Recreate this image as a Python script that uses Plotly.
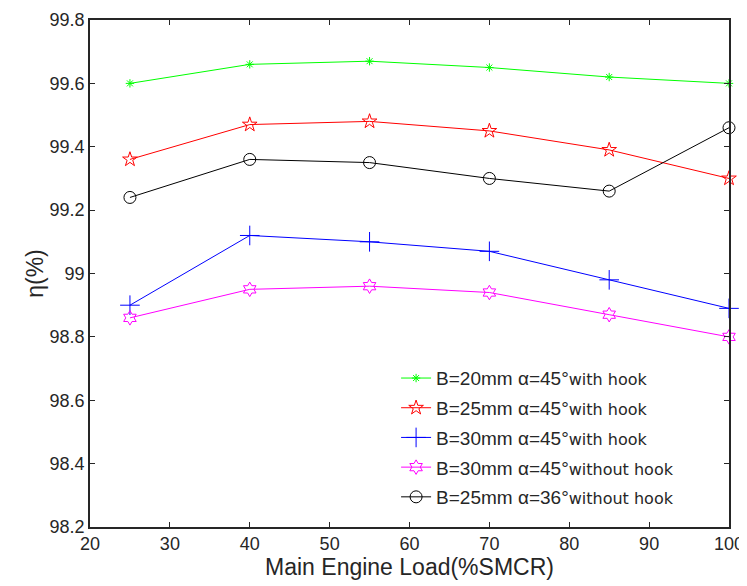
import plotly.graph_objects as go

load = [25, 40, 55, 70, 85, 100]
b20_a45_hook = [99.60, 99.66, 99.67, 99.65, 99.62, 99.60]
b25_a45_hook = [99.36, 99.47, 99.48, 99.45, 99.39, 99.30]
b30_a45_hook = [98.90, 99.12, 99.10, 99.07, 98.98, 98.89]
b30_a45_nohook = [98.86, 98.95, 98.96, 98.94, 98.87, 98.80]
b25_a36_nohook = [99.24, 99.36, 99.35, 99.30, 99.26, 99.46]

x_ticks = [20, 30, 40, 50, 60, 70, 80, 90, 100]
y_ticks = [98.2, 98.4, 98.6, 98.8, 99.0, 99.2, 99.4, 99.6, 99.8]
y_tick_labels = ["98.2", "98.4", "98.6", "98.8", "99", "99.2", "99.4", "99.6", "99.8"]

def nm(main, tail):
    return main + "<span style='font-family:DejaVu Sans;font-size:16px'>" + tail + "</span>"

series = [
    (nm("B=20mm α=45°", "with hook"), b20_a45_hook, "#00ff00", "asterisk-open", 7),
    (nm("B=25mm α=45°", "with hook"), b25_a45_hook, "#ff0000", "star-open", 11),
    (nm("B=30mm α=45°", "with hook"), b30_a45_hook, "#0000ff", "cross-thin-open", 14),
    (nm("B=30mm α=45°", "without hook"), b30_a45_nohook, "#ff00ff", "hexagram-open", 11),
    (nm("B=25mm α=36°", "without hook"), b25_a36_nohook, "#000000", "circle-open", 12),
]

fig = go.Figure()
for i, (name, vals, color, sym, size) in enumerate(series):
    fig.add_trace(go.Scatter(
        x=load, y=vals, name=name, mode="lines+markers",
        line=dict(color=color, width=1),
        marker=dict(symbol=sym, size=size, color=color, line=dict(color=color, width=1)),
        legendgroup=str(i), cliponaxis=False,
    ))

axis_common = dict(
    showgrid=False, zeroline=False, showline=True, linecolor="#262626", linewidth=1.5,
    mirror="ticks", ticks="inside", ticklen=5, tickcolor="#262626", automargin=False,
    tickfont=dict(family="Liberation Sans, Arial, sans-serif", size=18, color="#262626"),
)

# page body has an 8px default margin, so the figure is sized/offset to compensate
fig.update_layout(
    width=739, height=578,
    margin=dict(l=82, r=18, t=12, b=59),
    paper_bgcolor="white", plot_bgcolor="white",
    font=dict(family="Liberation Sans, Arial, sans-serif", color="#262626"),
    xaxis=dict(range=[20, 100], tickvals=x_ticks,
               title=dict(text="Main Engine Load(%SMCR)", font=dict(size=23), standoff=2),
               **axis_common),
    yaxis=dict(range=[98.2, 99.8], tickvals=y_ticks, ticktext=y_tick_labels,
               title=dict(text="η(%)", font=dict(size=23), standoff=0),
               **axis_common),
    legend=dict(x=0.479, y=0.331, xanchor="left", yanchor="top",
                font=dict(size=19, color="#262626"),
                bgcolor="rgba(255,255,255,0)", borderwidth=0,
                tracegroupgap=2),
    showlegend=True,
)

fig.write_html("out.html")
